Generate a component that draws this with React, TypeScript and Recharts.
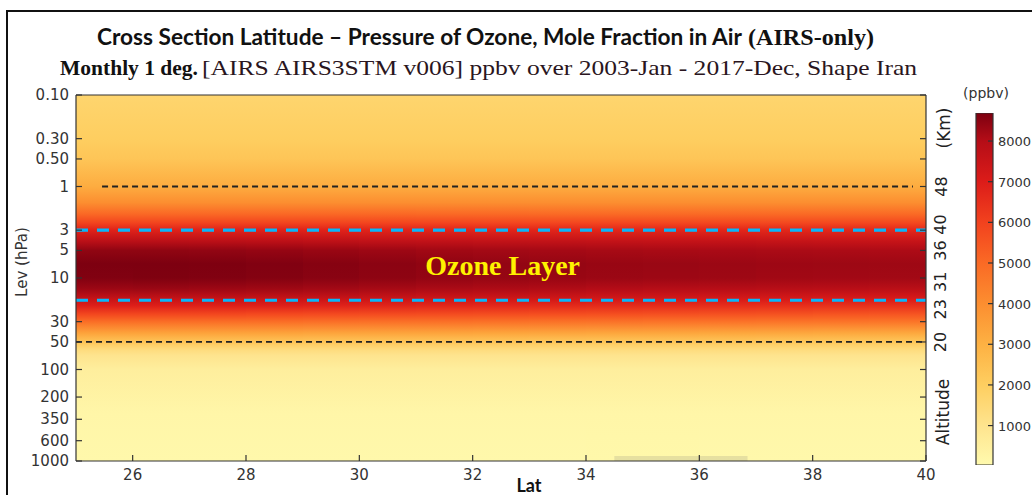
import React from "react";
import { ComposedChart, BarChart, Bar, XAxis, YAxis, ReferenceArea, ReferenceLine, ReferenceDot } from "recharts";

// pressure levels (hPa) where the profiles were read
const levels = [0.1, 0.3, 0.5, 1, 1.5, 2, 2.5, 3, 4, 5, 7, 10, 13, 17, 20, 25, 30, 40, 50, 60, 70, 100, 300, 1000];
// latitude column edges (1 deg)
const latEdges = [25, 26, 27, 28, 29, 30, 31, 32, 33, 34, 35, 36, 37, 38, 39, 40];
// ozone (ppbv) per latitude column, one value per level
const ozoneCols = [
  [1700, 2000, 2300, 3150, 4000, 5050, 5950, 6850, 7900, 8450, 8690, 8640, 8320, 7550, 6950, 5850, 4900, 3400, 2300, 1400, 1000, 550, 200, 120],
  [1700, 2000, 2300, 3150, 4000, 5050, 5950, 6850, 7900, 8450, 8690, 8660, 8340, 7550, 6950, 5850, 4900, 3400, 2300, 1400, 1000, 550, 200, 120],
  [1700, 2000, 2300, 3150, 4000, 5050, 5950, 6850, 7880, 8430, 8680, 8640, 8310, 7530, 6930, 5850, 4900, 3400, 2300, 1400, 1000, 550, 200, 120],
  [1700, 2000, 2300, 3150, 4000, 5050, 5950, 6850, 7850, 8400, 8640, 8600, 8280, 7500, 6900, 5800, 4880, 3400, 2300, 1400, 1000, 550, 200, 120],
  [1700, 2000, 2300, 3150, 4000, 5050, 5950, 6830, 7800, 8350, 8580, 8540, 8230, 7450, 6850, 5780, 4860, 3380, 2290, 1400, 1000, 550, 200, 120],
  [1700, 2000, 2300, 3150, 4000, 5050, 5930, 6810, 7750, 8300, 8520, 8480, 8180, 7400, 6800, 5750, 4840, 3370, 2280, 1400, 1000, 550, 200, 120],
  [1700, 2000, 2300, 3150, 4000, 5030, 5920, 6790, 7720, 8250, 8460, 8420, 8130, 7340, 6740, 5720, 4820, 3360, 2270, 1400, 1000, 550, 200, 120],
  [1700, 2000, 2300, 3150, 4000, 5020, 5910, 6770, 7700, 8220, 8420, 8380, 8100, 7300, 6700, 5700, 4800, 3350, 2260, 1400, 1000, 550, 200, 120],
  [1700, 2000, 2300, 3150, 4000, 5010, 5900, 6760, 7680, 8200, 8390, 8350, 8070, 7270, 6670, 5680, 4790, 3340, 2250, 1400, 1000, 550, 200, 120],
  [1700, 2000, 2300, 3150, 4000, 5000, 5890, 6750, 7660, 8170, 8360, 8320, 8030, 7230, 6630, 5650, 4770, 3320, 2250, 1400, 1000, 550, 210, 140],
  [1700, 2000, 2300, 3150, 4000, 5000, 5880, 6740, 7650, 8150, 8340, 8300, 8000, 7200, 6600, 5620, 4750, 3310, 2240, 1400, 1000, 550, 210, 140],
  [1700, 2000, 2300, 3150, 4000, 5000, 5870, 6730, 7640, 8140, 8320, 8280, 7980, 7160, 6560, 5600, 4740, 3300, 2230, 1400, 1000, 550, 210, 130],
  [1700, 2000, 2300, 3150, 4000, 5000, 5860, 6720, 7620, 8120, 8300, 8250, 7950, 7120, 6520, 5570, 4720, 3280, 2220, 1400, 1000, 550, 200, 120],
  [1700, 2000, 2300, 3150, 4000, 5000, 5850, 6710, 7600, 8110, 8290, 8240, 7920, 7080, 6480, 5530, 4710, 3260, 2210, 1400, 1000, 550, 200, 120],
  [1700, 2000, 2300, 3150, 4000, 5000, 5850, 6700, 7600, 8100, 8280, 8230, 7900, 7050, 6450, 5500, 4700, 3250, 2200, 1400, 1000, 550, 200, 120],
];

// colour scale
const cmapValues = [30, 1000, 2000, 3000, 4000, 5000, 6000, 7000, 8000, 8690];
const cmapColors = ["#fffaae", "#fee48e", "#fece60", "#fdb143", "#fc8e30", "#fa6a25", "#f2421e", "#dc1c19", "#b50d17", "#7d0010"];

const latTicks = [26, 28, 30, 32, 34, 36, 38, 40];
const levTicks = [0.1, 0.3, 0.5, 1, 3, 5, 10, 30, 50, 100, 200, 350, 600, 1000];
const altPressures = [1, 2.6, 5, 11, 22, 50];
const altLabels = ["48", "40", "36", "31", "23", "20"];
const cbarTicks = [1000, 2000, 3000, 4000, 5000, 6000, 7000, 8000];
const cbarData = [{ name: "ppbv", span: [cmapValues[0], cmapValues[cmapValues.length - 1]] }];

const rightTicks = Array.from(new Set([...levTicks, ...altPressures])).sort((a, b) => a - b);

const FONT = "'DejaVu Sans', sans-serif";
const INK = "#333";
const BLUE = "#08b6fb";

function hexRgb(h: string) {
  return [1, 3, 5].map((i) => parseInt(h.slice(i, i + 2), 16));
}

function colorFor(v: number) {
  if (v <= cmapValues[0]) return cmapColors[0];
  for (let i = 1; i < cmapValues.length; i++) {
    if (v <= cmapValues[i]) {
      const t = (v - cmapValues[i - 1]) / (cmapValues[i] - cmapValues[i - 1]);
      const a = hexRgb(cmapColors[i - 1]);
      const b = hexRgb(cmapColors[i]);
      const c = a.map((x, k) => Math.round(x + (b[k] - x) * t));
      return `rgb(${c[0]},${c[1]},${c[2]})`;
    }
  }
  return cmapColors[cmapColors.length - 1];
}

// gradient offset for a pressure on the log axis (0.1 at top, 1000 at bottom)
const levOffset = (p: number) => (Math.log10(p) + 1) / 4;

function LevTick({ x, y, payload }: any) {
  const v = payload.value;
  const label = v < 1 ? v.toFixed(2) : String(v);
  return (
    <g>
      <line x1={x} y1={y} x2={x + 6} y2={y} stroke={INK} strokeWidth={1.2} />
      <text x={x - 7} y={y} dy={5} textAnchor="end" fontSize={15} fill={INK} fontFamily={FONT}>{label}</text>
    </g>
  );
}

function RightTick({ x, y, payload }: any) {
  const v = payload.value;
  const i = altPressures.indexOf(v);
  const lx = x + 15;
  return (
    <g>
      {levTicks.includes(v) && <line x1={x} y1={y} x2={x - 6} y2={y} stroke={INK} strokeWidth={1.2} />}
      {i >= 0 && (
        <text x={lx} y={y} transform={`rotate(-90 ${lx} ${y})`} textAnchor="middle" dominantBaseline="central"
          fontSize={16} fill="#222" fontFamily={FONT}>{altLabels[i]}</text>
      )}
    </g>
  );
}

function LatTick({ x, y, payload }: any) {
  return (
    <g>
      <line x1={x} y1={y} x2={x} y2={y - 6} stroke={INK} strokeWidth={1.2} />
      <text x={x} y={y + 19} textAnchor="middle" fontSize={15} fill={INK} fontFamily={FONT}>{payload.value}</text>
    </g>
  );
}

function TopTick({ x, y }: any) {
  return <line x1={x} y1={y} x2={x} y2={y + 6} stroke={INK} strokeWidth={1.2} />;
}

function CbarTick({ x, y, payload }: any) {
  return (
    <g>
      <line x1={x} y1={y} x2={x - 5} y2={y} stroke={INK} strokeWidth={1.2} />
      <text x={x + 5} y={y} dy={5} textAnchor="start" fontSize={13} fill={INK} fontFamily={FONT}>{payload.value}</text>
    </g>
  );
}

function HeatMap() {
  return (
    <ComposedChart width={1032} height={495} margin={{ top: 94, right: 66, bottom: 0, left: 0 }}>
      <defs>
        {ozoneCols.map((col, i) => (
          <linearGradient key={i} id={`heat${i}`} x1="0" y1="0" x2="0" y2="1">
            {col.map((v, k) => (
              <stop key={k} offset={levOffset(levels[k])} stopColor={colorFor(v)} />
            ))}
          </linearGradient>
        ))}
      </defs>
      {ozoneCols.map((_, i) => (
        <ReferenceArea key={i} x1={latEdges[i]} x2={latEdges[i + 1]} y1={0.1} y2={1000}
          fill={`url(#heat${i})`} fillOpacity={1} stroke="none" shapeRendering="crispEdges" />
      ))}
      <ReferenceArea x1={34.5} x2={36.85} y1={880} y2={1000} fill="#8c8c80" fillOpacity={0.22} stroke="none" />
      <ReferenceLine segment={[{ x: 25.46, y: 1 }, { x: 39.77, y: 1 }]} stroke="#222" strokeWidth={1.8} strokeDasharray="6 4" />
      <ReferenceLine segment={[{ x: 25, y: 50 }, { x: 39.95, y: 50 }]} stroke="#222" strokeWidth={1.8} strokeDasharray="6 4" />
      <ReferenceLine y={3} stroke={BLUE} strokeWidth={3.2} strokeDasharray="12 9" />
      <ReferenceLine y={17.5} stroke={BLUE} strokeWidth={3.2} strokeDasharray="12 9" />
      <ReferenceDot x={32.53} y={7.2} r={0} fill="none" stroke="none"
        label={{ value: "Ozone Layer", position: "center", fill: "#fff200", fontSize: 28, fontWeight: 700, fontFamily: "'Liberation Serif', serif" }} />
      <XAxis type="number" dataKey="lat" domain={[25, 40]} ticks={latTicks} height={34} allowDataOverflow
        axisLine={{ stroke: INK, strokeWidth: 1.2 }} tickLine={false} tickSize={0} tickMargin={0} tick={<LatTick />} interval={0} />
      <XAxis xAxisId="top" orientation="top" type="number" domain={[25, 40]} ticks={latTicks} height={1} allowDataOverflow
        axisLine={{ stroke: INK, strokeWidth: 1.2 }} tickLine={false} tickSize={0} tickMargin={0} tick={<TopTick />} interval={0} />
      <YAxis type="number" scale="log" domain={[0.1, 1000]} reversed ticks={levTicks} width={76} allowDataOverflow
        axisLine={{ stroke: INK, strokeWidth: 1.2 }} tickLine={false} tickSize={0} tickMargin={0} tick={<LevTick />} interval={0} />
      <YAxis yAxisId="r" orientation="right" type="number" scale="log" domain={[0.1, 1000]} reversed ticks={rightTicks} width={40} allowDataOverflow
        axisLine={{ stroke: INK, strokeWidth: 1.2 }} tickLine={false} tickSize={0} tickMargin={0} tick={<RightTick />} interval={0} />
    </ComposedChart>
  );
}

function ColorBar() {
  return (
    <BarChart width={72} height={380} data={cbarData} margin={{ top: 13, right: 0, bottom: 15, left: 16 }} barCategoryGap={0}>
      <defs>
        <linearGradient id="cbar" x1="0" y1="1" x2="0" y2="0">
          {cmapValues.map((v, i) => (
            <stop key={i} offset={(v - cmapValues[0]) / (cmapValues[cmapValues.length - 1] - cmapValues[0])} stopColor={cmapColors[i]} />
          ))}
        </linearGradient>
      </defs>
      <XAxis dataKey="name" hide />
      <YAxis orientation="right" type="number" domain={[cmapValues[0], cmapValues[cmapValues.length - 1]]} ticks={cbarTicks} width={39}
        axisLine={false} tickLine={false} tickSize={0} tickMargin={0} tick={<CbarTick />} interval={0} allowDataOverflow />
      <Bar dataKey="span" fill="url(#cbar)" stroke="#333" strokeWidth={1.2} isAnimationActive={false} />
    </BarChart>
  );
}

export default function App() {
  return (
    <div style={{ position: "absolute", left: 0, top: 0, width: 1032, height: 495, background: "#fff", overflow: "hidden" }}>
      <HeatMap />
      <div style={{ position: "absolute", left: 960, top: 100 }}>
        <ColorBar />
      </div>
      <svg width={1032} height={495} style={{ position: "absolute", left: 0, top: 0, pointerEvents: "none" }}>
        <rect x={7} y={11} width={1100} height={600} fill="none" stroke="#111" strokeWidth={2} />
        <text x={97} y={45} fontFamily="Lato, sans-serif" fontWeight={700} fontSize={22} fill="#111"
          textLength={645} lengthAdjust="spacingAndGlyphs">Cross Section Latitude – Pressure of Ozone, Mole Fraction in Air</text>
        <text x={748} y={45} fontFamily="'Liberation Serif', serif" fontWeight={700} fontSize={23} fill="#111"
          textLength={126} lengthAdjust="spacingAndGlyphs">(AIRS-only)</text>
        <text x={60} y={75} fontFamily="'Liberation Serif', serif" fontWeight={700} fontSize={22} fill="#111"
          textLength={138} lengthAdjust="spacingAndGlyphs">Monthly 1 deg.</text>
        <text x={202} y={75} fontFamily="'Liberation Serif', serif" fontSize={22} fill="#2a1520"
          textLength={715} lengthAdjust="spacingAndGlyphs">[AIRS AIRS3STM v006] ppbv over 2003-Jan - 2017-Dec, Shape Iran</text>
        <text x={22} y={262} transform="rotate(-90 22 262)" textAnchor="middle" dominantBaseline="central"
          fontFamily={FONT} fontSize={15} fill={INK}>Lev (hPa)</text>
        <text x={529} y={492} textAnchor="middle" fontFamily="Lato, sans-serif" fontWeight={700} fontSize={18} fill="#111">Lat</text>
        <text x={944} y={128} transform="rotate(-90 944 128)" textAnchor="middle" dominantBaseline="central"
          fontFamily={FONT} fontSize={17} fill="#222">(Km)</text>
        <text x={943} y={412} transform="rotate(-90 943 412)" textAnchor="middle" dominantBaseline="central"
          fontFamily={FONT} fontSize={17} fill="#222">Altitude</text>
        <text x={986} y={98} textAnchor="middle" fontFamily={FONT} fontSize={14} fill={INK}>(ppbv)</text>
      </svg>
    </div>
  );
}
